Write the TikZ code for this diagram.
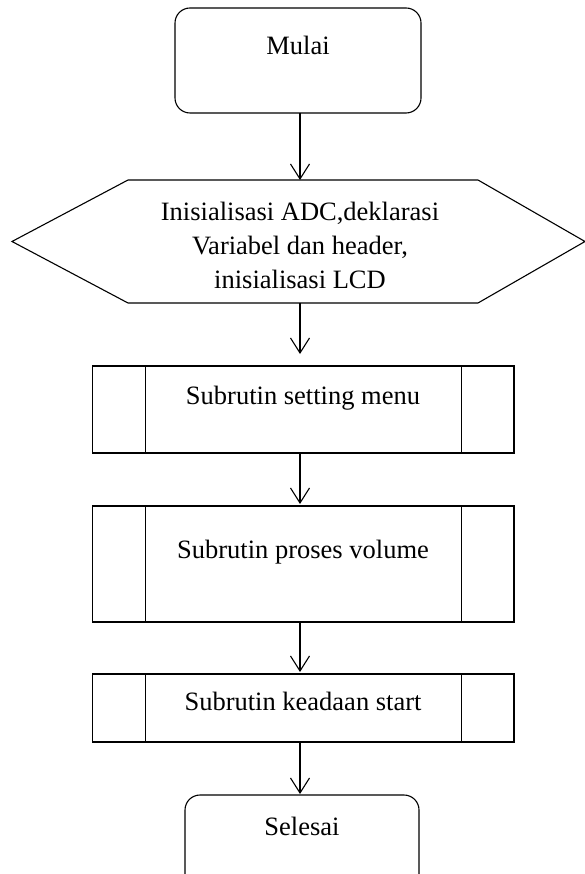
\documentclass[tikz,border=0pt]{standalone}
\usepackage{fontspec}
\setmainfont{Liberation Serif}
\usetikzlibrary{arrows.meta}

\tikzset{
  every node/.style={inner sep=0pt, outer sep=0pt},
  line/.style={draw=black, line width=1.1pt},
  terminal/.style={line, rounded corners=15pt},
  subbox/.style={line, minimum width=421.3pt},
  label text/.style={font=\fontsize{26.5}{34}\selectfont, align=center, anchor=base},
  flow/.style={line, -{Straight Barb[length=15pt,width=19pt,line width=1.1pt]}},
}

\newcommand{\subsides}[1]{%
  \draw[line] ([xshift=52.5pt]#1.north west) -- ([xshift=52.5pt]#1.south west);
  \draw[line] ([xshift=-52.5pt]#1.north east) -- ([xshift=-52.5pt]#1.south east);
}

\begin{document}
\begin{tikzpicture}[x=1pt, y=-1pt]
  \path[use as bounding box] (0,0) rectangle (585,874);
  \clip (0,0) rectangle (585,874);

  % start terminal
  \node[terminal, minimum width=246pt, minimum height=105pt] (start) at (298,60.5) {};
  \node[label text] (startT) at (298,55) {Mulai};

  % initialisation (hexagon)
  \node[minimum width=350pt, minimum height=123pt] (init) at (303,241.5) {};
  \coordinate (initL) at (12,241.5);
  \coordinate (initR) at (585,241.5);
  \draw[line] (init.north west) -- (init.north east) -- (initR)
              -- (init.south east) -- (init.south west) -- (initL) -- cycle;
  \node[font=\fontsize{26.5}{34}\selectfont, align=center] (initT) at (300,245)
    {Inisialisasi ADC,deklarasi\\Variabel dan header,\\inisialisasi LCD};

  % subroutines
  \node[subbox, minimum height=87pt] (menu) at (303.3,409.5) {};
  \subsides{menu}
  \node[label text] (menuT) at (303,404) {Subrutin setting menu};

  \node[subbox, minimum height=116pt] (vol) at (303.3,564) {};
  \subsides{vol}
  \node[label text] (volT) at (303,558) {Subrutin proses volume};

  \node[subbox, minimum height=68pt] (run) at (303.3,708) {};
  \subsides{run}
  \node[label text] (runT) at (303,710) {Subrutin keadaan start};

  % end terminal
  \node[terminal, minimum width=234pt, minimum height=110pt] (stop) at (302,850) {};
  \node[label text] (stopT) at (302,835) {Selesai};

  % connectors
  \draw[flow] (start.south -| initT) -- (init.north -| initT);
  \draw[flow, shorten >=12pt] (init.south -| initT) -- (menu.north -| initT);
  \draw[flow, shorten >=2pt] (menu.south -| initT) -- (vol.north -| initT);
  \draw[flow, shorten >=2pt] (vol.south -| initT) -- (run.north -| initT);
  \draw[flow, shorten >=1pt] (run.south -| initT) -- (stop.north -| initT);
\end{tikzpicture}
\end{document}
